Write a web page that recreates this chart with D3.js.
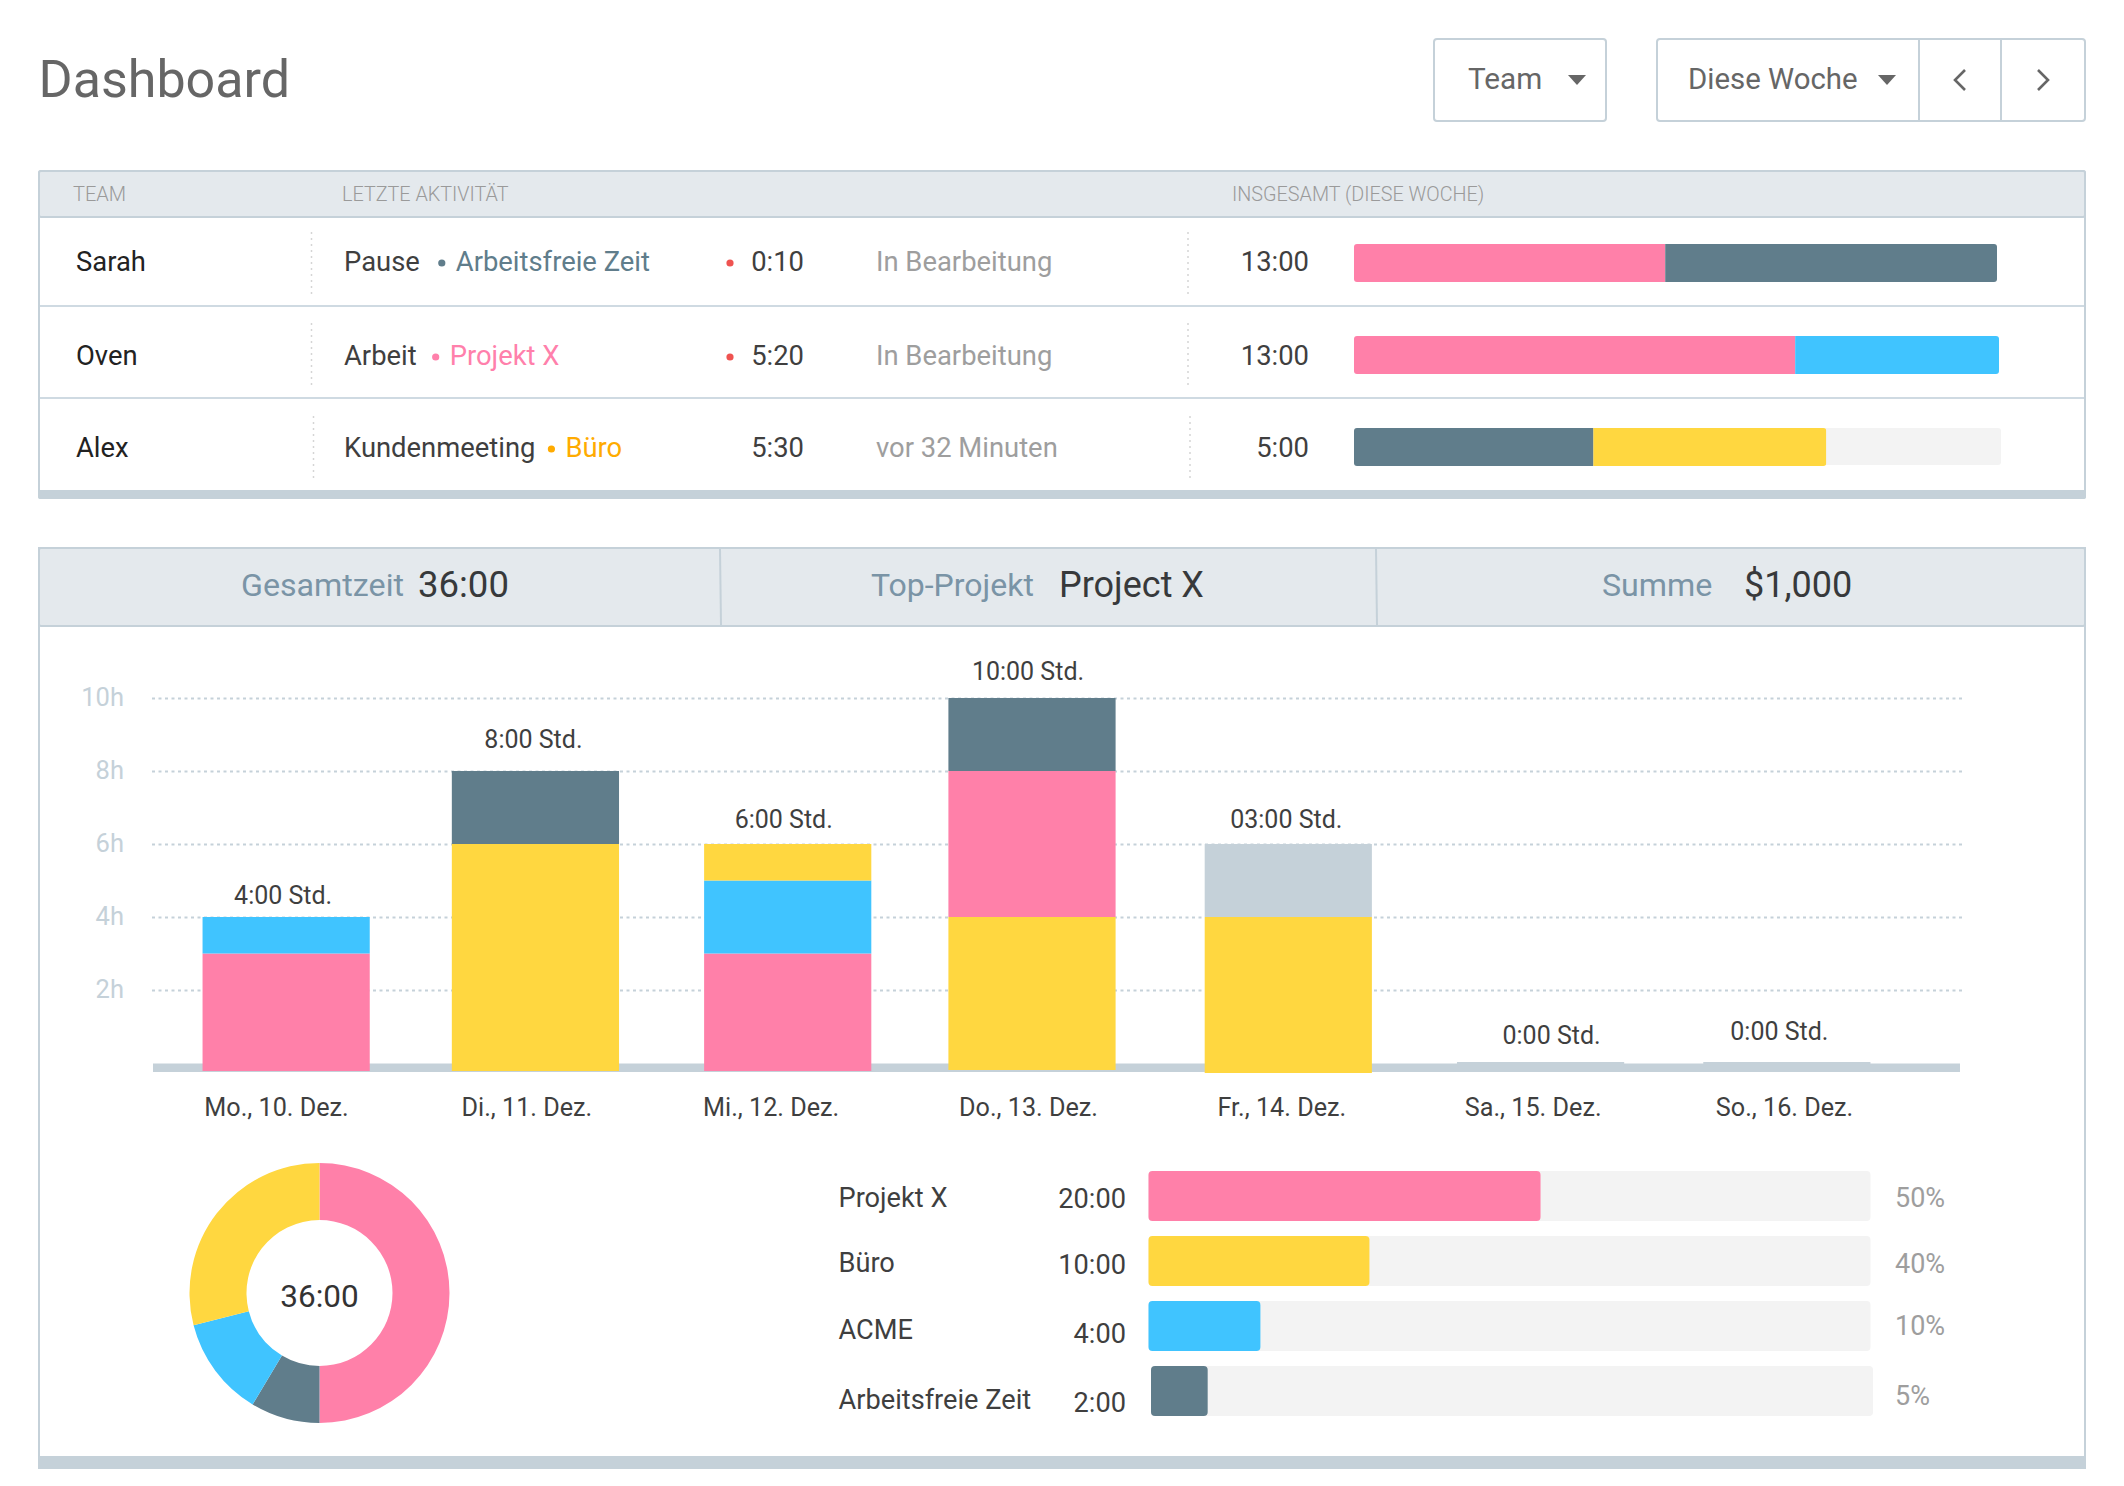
<!DOCTYPE html>
<html lang="de">
<head>
<meta charset="utf-8">
<style>
html,body{margin:0;padding:0;background:#fff}
svg{display:block}
text{font-family:Roboto,sans-serif}
</style>
<script src="https://cdn.jsdelivr.net/npm/d3@7/dist/d3.min.js"></script>
</head>
<body>
<svg id="c" width="2124" height="1486"></svg>
<script>
// ---------- data ----------
const palette = {pink:"#ff80a9", slate:"#607d8b", blue:"#40c4ff", yellow:"#ffd740", grey:"#c5d1d9"};

const teamNames   = ["Sarah","Oven","Alex"];
const activities  = ["Pause","Arbeit","Kundenmeeting"];
const projects    = ["Arbeitsfreie Zeit","Projekt X","Büro"];
const projectTint = ["#607d8b","#ff80ab","#ffab00"];
const runTimes    = ["0:10","5:20","5:30"];
const runningNow  = [true,true,false];
const statuses    = ["In Bearbeitung","In Bearbeitung","vor 32 Minuten"];
const weekTotals  = ["13:00","13:00","5:00"];
const rowKeys     = [["pink","slate"],["pink","blue"],["slate","yellow"]];
const rowShares   = [[48.4,51.6],[68.4,31.6],[37,36]];

const days     = ["Mo., 10. Dez.","Di., 11. Dez.","Mi., 12. Dez.","Do., 13. Dez.","Fr., 14. Dez.","Sa., 15. Dez.","So., 16. Dez."];
const dayKeys  = [["pink","blue"],["yellow","slate"],["pink","blue","yellow"],["yellow","pink","slate"],["yellow","grey"],[],[]];
const dayHours = [[3,1],[6,2],[3,2,1],[4,4,2],[4,2],[],[]];
const dayTotals= ["4:00 Std.","8:00 Std.","6:00 Std.","10:00 Std.","03:00 Std.","0:00 Std.","0:00 Std."];
const hourTicks= [2,4,6,8,10];

const donutKeys   = ["pink","slate","blue","yellow"];
const donutValues = [50,8.6,12.4,29];
const donutTotal  = "36:00";

const listNames   = ["Projekt X","Büro","ACME","Arbeitsfreie Zeit"];
const listKeys    = ["pink","yellow","blue","slate"];
const listTimes   = ["20:00","10:00","4:00","2:00"];
const listFill    = [54.3,30.6,15.5,7.85];
const listPercent = ["50%","40%","10%","5%"];

// ---------- layout ----------
const line = "#c5d1d9", head = "#e4e9ed", track = "#f3f3f3";
const ink = "#3f3f3f", grey = "#9e9e9e";
const rowBase   = [271,365,457];
const rowBarTop = [244,336,428];
const rowBarEnd = [1997,1999,2001];
const rowDotGap = [22,19,16];
const rowDivA   = [[311.5,232,295],[311.5,323,387],[313.5,416,478]];
const rowDivB   = [[1188,232,295],[1188,323,387],[1190,416,478]];
const barNudge  = [0,-1,1,-5,1,3,-1];
const labelNudgeX = [-3,-2,-4,-4,-2,11,-7.5];
const labelBase = [904,748,828,680,828,1043.5,1040];
const tickNudge = [0,-1,-8,-2,0,0,0];
const baseDrop  = [8,8,8,7,10];
const listNudge = [0,0,0,2.5];
const listLabelBase = [1207,1272,1339,1409];
const listTimeBase  = [1208,1274,1343,1412];
const listPctBase   = [1207,1273,1335,1405];

const svg = d3.select("#c");
function T(g,x,y,s,size,fill,opt={}){
  return g.append("text").attr("x",x).attr("y",y).text(s)
    .attr("font-size",size).attr("fill",fill)
    .attr("font-weight",opt.w||400)
    .attr("text-anchor",opt.a||"start")
    .attr("letter-spacing",opt.ls||null);
}
function box(g,x,y,w,h,fill,stroke,r){
  return g.append("rect").attr("x",x).attr("y",y).attr("width",w).attr("height",h)
    .attr("fill",fill).attr("stroke",stroke||"none").attr("stroke-width",stroke?2:0).attr("rx",r||0);
}
function rule(g,x1,y1,x2,y2,c,w,dash){
  return g.append("line").attr("x1",x1).attr("y1",y1).attr("x2",x2).attr("y2",y2)
    .attr("stroke",c).attr("stroke-width",w||2).attr("stroke-dasharray",dash||null);
}

// ---------- header ----------
const hdr = svg.append("g");
T(hdr,38.5,97,"Dashboard",52,"#666666");
box(hdr,1434,39,172,82,"#fff",line,3);
T(hdr,1468,89,"Team",29.7,"#666666");
box(hdr,1657,39,428,82,"#fff",line,3);
rule(hdr,1919,39,1919,121,line);
rule(hdr,2001,39,2001,121,line);
T(hdr,1688,89,"Diese Woche",29.4,"#666666");
[1577,1887].forEach(cx=>hdr.append("path")
  .attr("d",d3.line()([[cx-9,75],[cx+9,75],[cx,85]])+"Z").attr("fill","#666666"));
const chev=(cx,dir)=>hdr.append("path")
  .attr("d",d3.line()([[cx-5*dir,70],[cx+5*dir,80],[cx-5*dir,90]]))
  .attr("fill","none").attr("stroke","#666666").attr("stroke-width",2.6);
chev(1960,-1); chev(2043,1);

// ---------- team table ----------
const tbl = svg.append("g");
box(tbl,39,171,2046,327,"#fff",line,2);
box(tbl,39,171,2046,46,head,line,2);
box(tbl,38,490,2048,9,line,null,2);
T(tbl,73,201,"TEAM",20,"#9a9a9a",{w:300});
T(tbl,342,201,"LETZTE AKTIVITÄT",19.8,"#9a9a9a",{w:300});
T(tbl,1232,201,"INSGESAMT (DIESE WOCHE)",19.8,"#9a9a9a",{w:300});
rule(tbl,40,306,2084,306,"#cfdae2");
rule(tbl,40,398,2084,398,"#cfdae2");

teamNames.forEach((name,i)=>{
  const b=rowBase[i];
  T(tbl,76,b,name,27.4,"#222");
  const act=T(tbl,344,b,activities[i],27.4,ink);
  const actEnd=344+act.node().getComputedTextLength();
  const bx=actEnd+rowDotGap[i];
  tbl.append("circle").attr("cx",bx).attr("cy",b-8).attr("r",3.6).attr("fill",projectTint[i]);
  T(tbl,bx+14,b,projects[i],27.4,projectTint[i]);
  if(runningNow[i]) tbl.append("circle").attr("cx",730).attr("cy",b-8).attr("r",3.6).attr("fill","#ef5350");
  T(tbl,804,b,runTimes[i],27.4,ink,{a:"end"});
  T(tbl,876,b,statuses[i],27.4,grey);
  T(tbl,1309,b,weekTotals[i],27.4,ink,{a:"end"});
  [rowDivA[i],rowDivB[i]].forEach(d=>rule(tbl,d[0],d[1],d[0],d[2],"#d5d5d5",1.5,"2 4"));

  const sx=d3.scaleLinear().domain([0,100]).range([1354,rowBarEnd[i]]);
  if(i===2) box(tbl,sx(0),rowBarTop[i],sx(100)-sx(0),37,track,null,3);
  const cum=d3.cumsum(rowShares[i]);
  const clip="rowclip"+i;
  tbl.append("clipPath").attr("id",clip).append("rect")
    .attr("x",sx(0)).attr("y",rowBarTop[i]).attr("width",sx(cum[cum.length-1])-sx(0)).attr("height",38).attr("rx",3);
  tbl.append("g").attr("clip-path",`url(#${clip})`).selectAll("rect").data(rowShares[i]).join("rect")
    .attr("x",(d,k)=>sx(cum[k]-d)).attr("width",d=>sx(d)-sx(0))
    .attr("y",rowBarTop[i]).attr("height",38).attr("fill",(d,k)=>palette[rowKeys[i][k]]);
});

// ---------- summary panel ----------
const pan = svg.append("g");
box(pan,39,548,2046,915,"#fff",line,0);
box(pan,39,548,2046,78,head,line,2);
rule(pan,720,549,721,625,line);
rule(pan,1376,549,1377,625,line);
box(pan,38,1456,2048,13,line);
const label="#7a94a6", strong="#37393b";
T(pan,241,596.3,"Gesamtzeit",32.2,label);
T(pan,418,597,"36:00",36.5,strong);
T(pan,871,596.3,"Top-Projekt",32,label);
T(pan,1059,597,"Project X",36,strong);
T(pan,1602,596.3,"Summe",32.2,label);
T(pan,1744,597,"$1,000",36,strong);

// ---------- stacked bars ----------
const chart = svg.append("g");
const y = d3.scaleLinear().domain([0,10]).range([1063,698]);
const x = d3.scaleBand().domain(days).range([161,1913]).paddingInner(0.332).paddingOuter(0.166);
const yAxis = d3.axisLeft(y).tickValues(hourTicks).tickFormat(d=>d+"h").tickSizeInner(-1810).tickSizeOuter(0).tickPadding(28);
const gy = chart.append("g").attr("transform","translate(152,0)").call(yAxis);
gy.select(".domain").remove();
gy.selectAll("line").attr("stroke",line).attr("stroke-width",2).attr("stroke-dasharray","3 3.5");
gy.selectAll("text").attr("font-size",25.5).attr("fill",line).attr("font-family","Roboto,sans-serif").attr("dy","0.3em");

box(chart,153,1063.5,1807,8.5,line);

days.forEach((d,i)=>{
  const bx=x(d)+barNudge[i], bw=x.bandwidth();
  if(!dayHours[i].length){ box(chart,bx,1062,bw,4,line); return; }
  const cum=d3.cumsum(dayHours[i]);
  dayHours[i].forEach((h,k)=>{
    const segTop=y(cum[k]), bottom=k===0? y(0)+baseDrop[i] : y(cum[k]-h);
    box(chart,bx,segTop,bw,bottom-segTop,palette[dayKeys[i][k]]);
  });
});
days.forEach((d,i)=>{
  T(chart,x(d)+x.bandwidth()/2+barNudge[i]+labelNudgeX[i],labelBase[i],dayTotals[i],25,ink,{a:"middle"});
});
const xTicks = d3.scalePoint().domain(days).range([276,1784]);
const xAxis = d3.axisBottom(xTicks).tickSize(0).tickPadding(0);
const gx = chart.append("g").attr("transform","translate(0,1098)").call(xAxis);
gx.select(".domain").remove();
gx.selectAll("text").attr("font-size",25.2).attr("fill",ink).attr("font-family","Roboto,sans-serif")
  .attr("dy",0).attr("y",18).attr("transform",(d,i)=>`translate(${tickNudge[i]},0)`);

// ---------- donut ----------
const dn = svg.append("g").attr("transform","translate(319.5,1293)");
const pie = d3.pie().sort(null);
const arc = d3.arc().innerRadius(73).outerRadius(130);
dn.selectAll("path").data(pie(donutValues)).join("path")
  .attr("d",arc).attr("fill",(d,i)=>palette[donutKeys[i]]);
T(dn,0,14,donutTotal,31.5,"#333",{a:"middle"});

// ---------- project list ----------
const list = svg.append("g");
const ly = d3.scaleBand().domain(listNames).range([1171,1416]).paddingInner(0.23).paddingOuter(0);
const lx = d3.scaleLinear().domain([0,100]).range([0,722]);
listNames.forEach((n,i)=>{
  const left=1148.5+listNudge[i], t=ly(n), h=50;
  T(list,838.5,listLabelBase[i],n,27.2,ink);
  T(list,1126,listTimeBase[i],listTimes[i],27.2,ink,{a:"end"});
  box(list,left,t,lx(100),h,track,null,4);
  box(list,left,t,lx(listFill[i]),h,palette[listKeys[i]],null,4);
  T(list,1895,listPctBase[i],listPercent[i],27,grey);
});
</script>
</body>
</html>
